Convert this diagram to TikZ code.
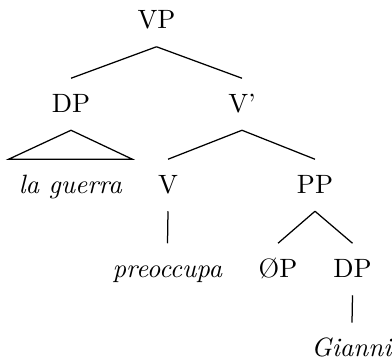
\documentclass[tikz,border=0pt]{standalone}
\begin{document}
\begin{tikzpicture}[x=0.4pt,y=-0.4pt,
  lbl/.style={anchor=base,font=\fontsize{10.6}{12.7}\selectfont,inner xsep=0pt,inner ysep=6.2pt,text height=7.1pt,text depth=0.9pt},
  edge/.style={draw=black,line width=0.5pt}]
\useasboundingbox (0,0) rectangle (392,359);
% nodes
\node[lbl] (vp)  at (156.5,28.5) {VP};
\node[lbl] (dp)  at (71,112) {DP};
\node[lbl] (vb)  at (242,112) {V'};
\node[lbl] (lg)  at (70.5,193) {\textit{la guerra}};
\node[lbl] (v)   at (168,193) {V};
\node[lbl] (pp)  at (315,193) {PP};
\node[lbl] (pre) at (167.5,277) {\textit{preoccupa}};
\node[lbl] (op)  at (278,277) {\O{}P};
\node[lbl] (dp2) at (352.5,277) {DP};
\node[lbl] (gi)  at (352,356.3) {\textit{Gianni}};
% connectors
\draw[edge] (vp.south) -- (dp.north);
\draw[edge] (vp.south) -- (vb.north);
\draw[edge] (dp.south) -- ([xshift=-3.9pt]lg.north west) -- ([xshift=3.9pt]lg.north east) -- cycle;
\draw[edge] (vb.south) -- (v.north);
\draw[edge] (vb.south) -- (pp.north);
\draw[edge] (v.south) -- (pre.north);
\draw[edge] (pp.south) -- (op.north);
\draw[edge] (pp.south) -- (dp2.north);
\draw[edge] (dp2.south) -- (gi.north);
\end{tikzpicture}
\end{document}
